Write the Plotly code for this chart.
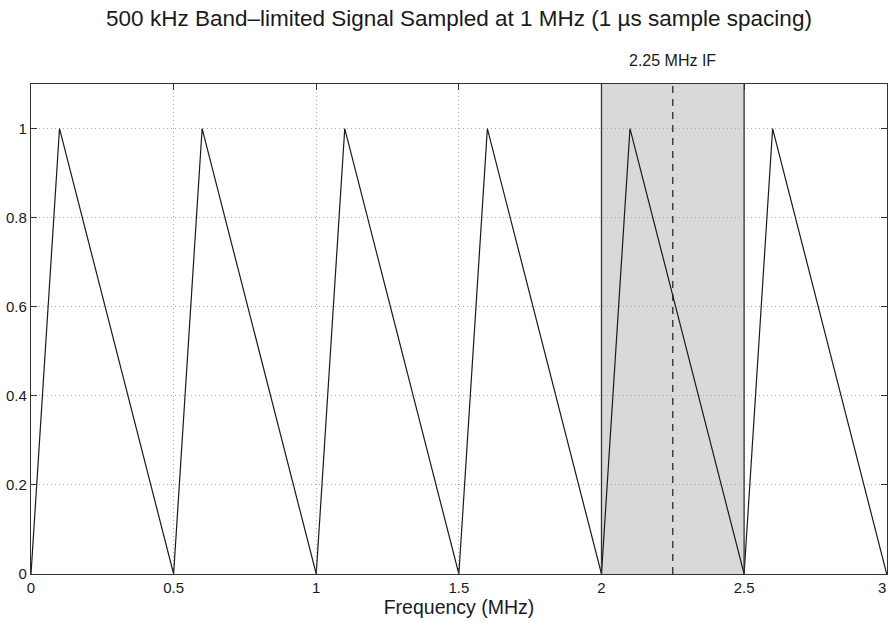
import plotly.graph_objects as go

# Data
freq_mhz = [0, 0.1, 0.5, 0.6, 1.0, 1.1, 1.5, 1.6, 2.0, 2.1, 2.5, 2.6, 3.0]
amplitude = [0, 1, 0, 1, 0, 1, 0, 1, 0, 1, 0, 1, 0]
band_lo, band_hi = 2.0, 2.5
if_center = 2.25
x_ticks = [0, 0.5, 1, 1.5, 2, 2.5, 3]
x_ticklabels = ["0", "0.5", "1", "1.5", "2", "2.5", "3"]
y_ticks = [0, 0.2, 0.4, 0.6, 0.8, 1]
y_ticklabels = ["0", "0.2", "0.4", "0.6", "0.8", "1"]

FONT = "Liberation Sans, Arial, sans-serif"
INK = "#1a1a1a"
TICK_SIZE = 15

fig = go.Figure()
fig.add_trace(go.Scatter(x=freq_mhz, y=amplitude, mode="lines",
                         line=dict(color=INK, width=1.2),
                         showlegend=False, hoverinfo="skip"))

fig.add_shape(type="rect", x0=band_lo, x1=band_hi, y0=0, y1=1.1,
              xref="x", yref="y", layer="below",
              fillcolor="#d9d9d9", line=dict(width=0))
for xb in (band_lo, band_hi):
    fig.add_shape(type="line", x0=xb, x1=xb, y0=0, y1=1.1,
                  xref="x", yref="y", layer="above",
                  line=dict(color="#333333", width=1.3))
fig.add_shape(type="line", x0=if_center, x1=if_center, y0=0, y1=1.1,
              xref="x", yref="y", layer="above",
              line=dict(color=INK, width=1.2, dash="7px,6px"))

fig.add_annotation(x=if_center, y=1.1, xref="x", yref="y",
                   text="2.25 MHz IF", showarrow=False, yanchor="middle",
                   yshift=24, font=dict(family=FONT, size=16, color=INK))

# last x tick label sits on the page edge (plotly drops it), draw it as text
fig.add_annotation(x=x_ticks[-1], y=0, xref="x", yref="y",
                   text=x_ticklabels[-1], showarrow=False, yanchor="top",
                   xanchor="right", xshift=1, yshift=-3,
                   font=dict(family=FONT, size=TICK_SIZE, color=INK))

fig.update_layout(
    width=888, height=621,
    margin=dict(l=31, r=1, t=84, b=47),
    paper_bgcolor="white", plot_bgcolor="white",
    title=dict(text="500 kHz Band\u2013limited Signal Sampled at 1 MHz (1 \u00b5s sample spacing)",
               xref="paper", x=0.5, xanchor="center", y=1 - 18 / 621, yanchor="middle",
               font=dict(family=FONT, size=22.5, color=INK)),
    font=dict(family=FONT, color=INK),
)
fig.update_xaxes(range=[0, 3.001], tickvals=x_ticks, ticktext=x_ticklabels,
                 ticks="inside", ticklen=6, tickcolor="#333333",
                 showline=True, linecolor="#333333", linewidth=1.3, mirror="allticks",
                 showgrid=True, gridcolor="#aaaaaa", griddash="1px,3px", gridwidth=1,
                 zeroline=False,
                 tickfont=dict(family=FONT, size=TICK_SIZE, color=INK),
                 title=dict(text="Frequency (MHz)", standoff=2,
                            font=dict(family=FONT, size=19.5, color=INK)))
fig.update_yaxes(range=[0, 1.1], tickvals=y_ticks, ticktext=y_ticklabels,
                 ticks="inside", ticklen=6, tickcolor="#333333",
                 showline=True, linecolor="#333333", linewidth=1.3, mirror="allticks",
                 showgrid=True, gridcolor="#aaaaaa", griddash="1px,3px", gridwidth=1,
                 zeroline=False,
                 tickfont=dict(family=FONT, size=TICK_SIZE, color=INK))

fig.write_html("out.html")
